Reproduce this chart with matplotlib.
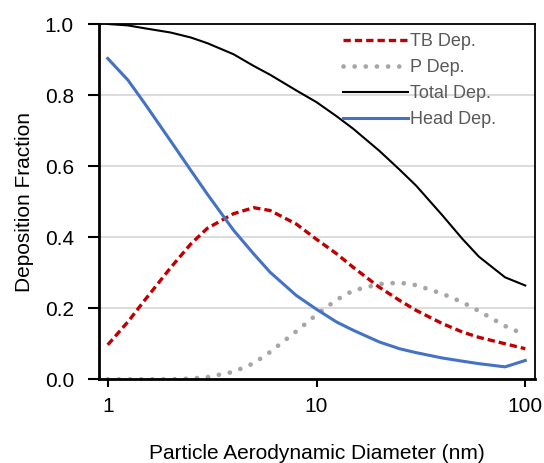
import matplotlib
matplotlib.use("Agg")
import matplotlib.pyplot as plt

plt.rcParams['font.family'] = ['Liberation Sans', 'DejaVu Sans']

diam = [1, 1.25, 1.5, 2, 2.5, 3, 4, 5, 6, 8, 10, 12.5, 15, 20, 25, 30, 40, 50, 60, 80, 100]
tb_dep = [0.097, 0.162, 0.222, 0.314, 0.381, 0.425, 0.466, 0.483, 0.475, 0.437, 0.394,
          0.353, 0.315, 0.259, 0.222, 0.194, 0.157, 0.133, 0.118, 0.100, 0.086]
p_dep = [0.0, 0.0, 0.0, 0.0, 0.002, 0.006, 0.021, 0.045, 0.077, 0.135, 0.182,
         0.224, 0.250, 0.268, 0.272, 0.265, 0.241, 0.217, 0.192, 0.150, 0.125]
total_dep = [1.0, 0.996, 0.988, 0.976, 0.962, 0.946, 0.915, 0.882, 0.857, 0.813, 0.780,
             0.740, 0.705, 0.643, 0.590, 0.545, 0.462, 0.395, 0.345, 0.287, 0.264]
head_dep = [0.903, 0.842, 0.777, 0.671, 0.588, 0.521, 0.420, 0.353, 0.301, 0.236, 0.197,
            0.161, 0.138, 0.105, 0.086, 0.075, 0.060, 0.051, 0.044, 0.035, 0.053]

fig = plt.figure(figsize=(5.44, 4.63), dpi=100)
ax = fig.add_axes([99 / 544, 83.7 / 463, 436 / 544, 355.3 / 463])

ax.plot(diam, tb_dep, color='#C00000', lw=2.4, ls=(0, (2.2, 1.2)), label='TB Dep.')
ax.plot(diam, p_dep, color='#A6A6A6', lw=3.4, ls=(0, (0.01, 2.35)), dash_capstyle='round', label='P Dep.')
ax.plot(diam, total_dep, color='black', lw=1.5, label='Total Dep.')
ax.plot(diam, head_dep, color='#4472C4', lw=2.2, label='Head Dep.')

ax.set_xscale('log')
ax.set_xlim(0.908, 111.3)
ax.set_ylim(0, 1.0)
ax.set_xticks([1, 10, 100])
ax.set_xticklabels(['1', '10', '100'])
ax.minorticks_off()
ax.set_yticks([0, 0.2, 0.4, 0.6, 0.8, 1.0])
ax.set_yticklabels(['0.0', '0.2', '0.4', '0.6', '0.8', '1.0'])
ax.grid(axis='y', color='#D9D9D9', lw=1.3)
ax.set_axisbelow(True)

for s in ax.spines.values():
    s.set_linewidth(1.3)
ax.spines['left'].set_linewidth(2)
ax.spines['bottom'].set_linewidth(2)
ax.tick_params(axis='y', length=8, width=1.5, labelsize=15, pad=10)
ax.tick_params(axis='x', length=6, width=1.5, labelsize=15, pad=7)

ax.set_xlabel('Particle Aerodynamic Diameter (nm)', fontsize=15, labelpad=20)
ax.set_ylabel('Deposition Fraction', fontsize=15, labelpad=8)

leg = ax.legend(loc='upper left', frameon=False, fontsize=13,
                handlelength=3.6, labelspacing=0.5, handletextpad=0.12,
                borderpad=0, borderaxespad=0,
                bbox_to_anchor=(343 / 544, 1 - 33 / 463), bbox_transform=fig.transFigure)
for t in leg.get_texts():
    t.set_color('#595959')

fig.savefig('out.png', dpi=100)
